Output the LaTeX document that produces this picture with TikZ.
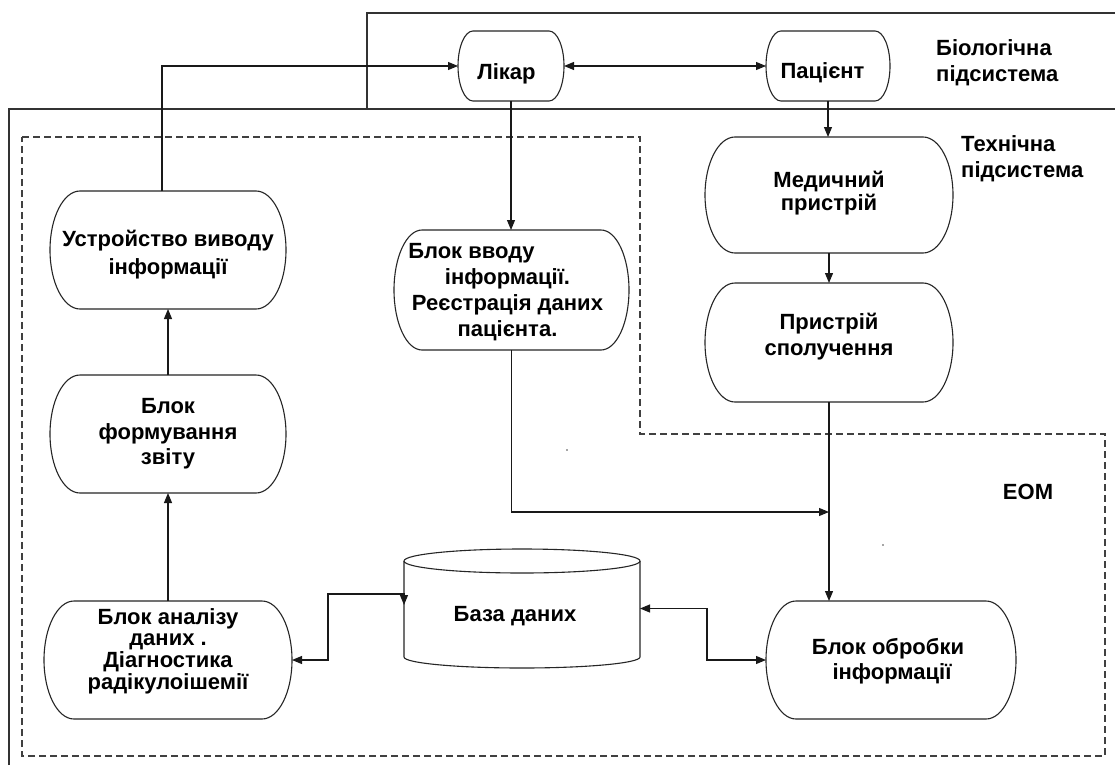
\documentclass[tikz,border=0pt]{standalone}
\usepackage{fontspec}
\setmainfont{Liberation Sans}
\usetikzlibrary{arrows.meta,calc}
\tikzset{
  frame/.style={draw=none, inner sep=0pt, outer sep=0pt, rectangle},
  boxline/.style={line width=1.1pt, black!85},
  boxtext/.style={align=center, inner sep=0pt},
  conn/.style={line width=1.1pt, black!90},
  arr/.style={conn, -{Triangle[length=10pt, width=8pt]}},
  darr/.style={conn, {Triangle[length=10pt, width=8pt]}-{Triangle[length=10pt, width=8pt]}},
  frameline/.style={line width=1.1pt, black!80},
  dashline/.style={line width=1.1pt, black!75, dash pattern=on 7pt off 4pt},
  lbl/.style={align=left, inner sep=0pt, anchor=west, font=\bfseries\fontsize{22}{26}\selectfont}
}
% name, cx, cy, w, h, rx, text offset, baselineskip, text
\newcommand\termbox[9]{%
  \node[frame, minimum width=#4pt, minimum height=#5pt] (#1) at (#2,#3) {};
  \draw[boxline] ([xshift=#6pt]#1.north west) -- ([xshift=-#6pt]#1.north east)
    arc[start angle=90, end angle=-90, x radius=#6pt, y radius=#5pt/2]
    -- ([xshift=#6pt]#1.south west)
    arc[start angle=270, end angle=90, x radius=#6pt, y radius=#5pt/2] -- cycle;
  \node[boxtext, font=\bfseries\fontsize{22}{#8}\selectfont] (#1-t) at ($(#1.center)+(#7)$) {#9};
}
\begin{document}
\begin{tikzpicture}[x=1pt, y=-1pt]
\useasboundingbox[fill=white] (0,0) rectangle (1115,765);

% subsystem frames
\draw[frameline] (9,765) -- (9,109) -- (1115,109);
\draw[frameline] (367,109) -- (367,13) -- (1115,13);
\draw[dashline] (22,137) -- (640,137) -- (640,434) -- (1105,434) -- (1105,756) -- (22,756) -- cycle;

% boxes
\termbox{likar}{511}{66}{106}{70}{15}{-4.5,8}{26}{Лікар}
\termbox{pac}{828}{66}{124}{70}{15}{-5.5,7}{26}{Пацієнт}
\termbox{ustr}{168}{250}{236}{118}{30}{0,5}{28}{Устройство виводу\\інформації}
\termbox{form}{168}{434}{236}{118}{30}{0,0}{25.5}{Блок\\формування\\звіту}
\termbox{anal}{168}{660}{248}{118}{30}{0,-9}{21.7}{Блок аналізу\\даних .\\Діагностика\\радікулоішемії}
\termbox{vvod}{511.5}{290}{235}{120}{28}{-4,2}{26}{Блок вводу\hspace*{72pt}\\інформації.\\Реєстрація даних\\пацієнта.}
\termbox{med}{829}{195}{248}{116}{30}{0,-2}{23}{Медичний\\пристрій}
\termbox{prist}{829}{342.5}{248}{119}{30}{0,-5.5}{26}{Пристрій\\сполучення}
\termbox{obr}{891}{660}{250}{118}{30}{-3,1}{25}{Блок обробки\\\hspace*{8pt}інформації}

% database cylinder
\node[frame, minimum width=236pt, minimum height=119pt] (db) at (522,608.5) {};
\draw[boxline] ($(db.north)+(0,12)$) ellipse[x radius=118pt, y radius=12pt];
\draw[boxline] ($(db.north west)+(0,12)$) -- ($(db.south west)+(0,-11)$)
  arc[start angle=180, end angle=360, x radius=118pt, y radius=11pt]
  -- ($(db.north east)+(0,12)$);
\node[boxtext, font=\bfseries\fontsize{22}{26}\selectfont] (db-t) at (515,616) {База даних};

% labels
\node[lbl] (bio) at (936,63) {Біологічна\\підсистема};
\node[lbl] (tech) at (961,159) {Технічна\\підсистема};
\node[lbl, anchor=center] (eom) at (1028,492) {ЕОМ};

% connectors
\coordinate (vj) at ($(vvod.south)+(0,162)$);
\coordinate (dbl1) at ($(db.west)+(0,-14.5)$);
\coordinate (dbl2) at ($(db.west)+(0,-3.5)$);
\draw[arr] ([xshift=-6pt]ustr.north) |- (likar.west);
\draw[arr] (likar.south) -- (likar.south |- vvod.north);
\draw[darr] (likar.east) -- (pac.west);
\draw[arr] (pac.south) -- (pac.south |- med.north);
\draw[arr] (med.south) -- (prist.north);
\draw[arr] (prist.south) -- (prist.south |- obr.north);
\draw[arr] (vvod.south) |- (vj -| prist.south);
\draw[arr] (form.north) -- (ustr.south);
\draw[arr] (anal.north) -- (form.south);
\draw[darr] (anal.east) -- ++(36,0) |- (dbl1) -- (dbl2);
\draw[darr] (db.east) -- ++(67,0) |- (obr.west);

% stray specks
\fill[black!70] (567,450) circle[radius=0.8pt];
\fill[black!70] (883,545) circle[radius=0.8pt];
\end{tikzpicture}
\end{document}
